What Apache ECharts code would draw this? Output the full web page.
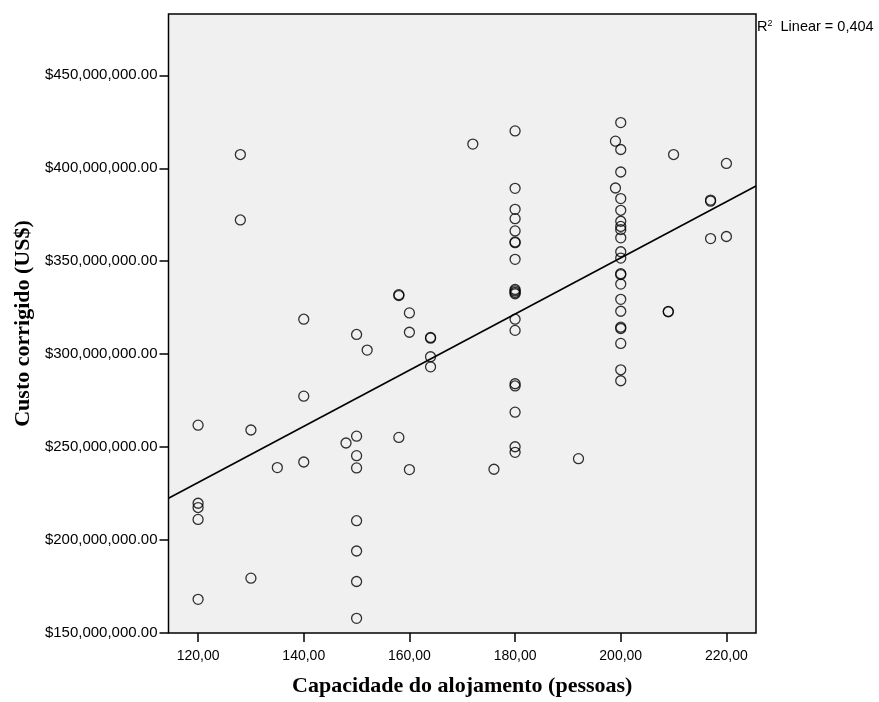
<!DOCTYPE html>
<html>
<head>
<meta charset="utf-8">
<script src="https://cdn.jsdelivr.net/npm/echarts@6/dist/echarts.min.js"></script>
<style>
html,body{margin:0;padding:0;background:#fff;overflow:hidden;}
#chart{width:879px;height:702px;}
</style>
</head>
<body>
<div id="chart"></div>
<script>
// Capacity (pessoas) and corrected cost (millions of US$), paired by index
const capacity = [
  120,120,120,120,120,
  128,128,
  130,130,
  135,
  140,140,140,
  148,
  150,150,150,150,150,150,150,150,
  152,
  158,158,158,
  160,160,160,
  164,164,164,164,
  172,
  176,
  180,180,180,180,180,180,180,180,180,180,180,180,180,180,180,180,180,180,180,
  192,
  199,199,
  200,200,200,200,200,200,200,200,200,200,200,200,200,200,200,200,200,200,200,200,200,
  209,209,
  210,
  217,217,217,
  220,220
];
const costMillions = [
  261.8,219.8,217.5,211.1,168.1,
  407.4,372.2,
  259.2,179.5,
  239.0,
  318.8,277.4,242.0,
  252.2,
  310.6,255.9,245.4,238.8,210.4,194.1,177.7,157.9,
  302.2,
  332.0,331.5,255.2,
  322.2,311.8,237.9,
  309.0,308.6,298.6,293.2,
  413.0,
  238.1,
  420.1,389.2,377.9,372.9,366.3,360.4,360.0,351.0,334.8,334.0,333.2,332.5,318.8,312.8,284.1,282.9,268.8,250.2,247.2,
  243.8,
  414.6,389.4,
  424.6,410.1,398.0,383.7,377.4,371.5,368.7,367.0,362.6,355.1,351.7,343.3,342.8,337.7,329.5,323.1,314.5,313.8,305.8,291.6,285.7,
  323.0,322.8,
  407.4,
  382.9,382.3,362.2,
  402.6,363.3
];
const xTicks = [120,140,160,180,200,220];
const yTicks = [150e6,200e6,250e6,300e6,350e6,400e6,450e6];
const xRange = [114.4, 225.6];
const yRange = [150e6, 483e6];
const r2Value = '0,404';

const points = capacity.map((c,i)=>[c, costMillions[i]*1e6]);

// least-squares fit of the points
const n = points.length;
let sx=0, sy=0, sxx=0, sxy=0;
points.forEach(p=>{sx+=p[0]; sy+=p[1]; sxx+=p[0]*p[0]; sxy+=p[0]*p[1];});
const slope = (n*sxy - sx*sy)/(n*sxx - sx*sx);
const intercept = (sy - slope*sx)/n;
const fitLine = xRange.map(x=>[x, intercept + slope*x]);

const chart = echarts.init(document.getElementById('chart'), null, {width:879, height:702});
chart.setOption({
  backgroundColor:'#ffffff',
  animation:false,
  grid:{left:168.5, right:123, top:14, bottom:66, show:true, backgroundColor:'#f0f0f0', borderColor:'#000', borderWidth:1.5},
  xAxis:{
    type:'value', min:xRange[0], max:xRange[1],
    name:'Capacidade do alojamento (pessoas)', nameLocation:'middle', nameGap:42,
    nameTextStyle:{fontFamily:'Liberation Serif', fontWeight:'bold', fontSize:22, color:'#000'},
    axisLine:{show:false},
    splitLine:{show:false},
    axisTick:{show:true, length:9, lineStyle:{color:'#000', width:1.5}, customValues:xTicks},
    axisLabel:{customValues:xTicks, color:'#000', fontFamily:'Liberation Sans', fontSize:14, margin:16,
      formatter:v=>v.toFixed(2).replace('.',',')}
  },
  yAxis:{
    type:'value', min:yRange[0], max:yRange[1],
    name:'Custo corrigido (US$)', nameLocation:'middle', nameGap:134,
    nameTextStyle:{fontFamily:'Liberation Serif', fontWeight:'bold', fontSize:22, color:'#000'},
    axisLine:{show:false},
    splitLine:{show:false},
    axisTick:{show:true, length:9, lineStyle:{color:'#000', width:1.5}, customValues:yTicks},
    axisLabel:{customValues:yTicks, color:'#000', fontFamily:'Liberation Sans', fontSize:15, margin:11,
      formatter:v=>'$'+v.toLocaleString('en-US',{minimumFractionDigits:2, maximumFractionDigits:2})}
  },
  series:[
    {type:'scatter', data:points, symbol:'circle', symbolSize:10,
     itemStyle:{color:'rgba(0,0,0,0)', borderColor:'#000', borderWidth:1.3}, silent:true, z:3},
    {type:'line', data:fitLine, showSymbol:false, symbol:'none', lineStyle:{color:'#000', width:1.6}, silent:true, z:2}
  ],
  graphic:[
    {type:'text', left:757, top:19, style:{
      text:'{r|R}{s|2}{r|  Linear = ' + r2Value + '}',
      rich:{
        r:{fontFamily:'Liberation Sans', fontSize:14.5, fill:'#000', verticalAlign:'bottom', lineHeight:16},
        s:{fontFamily:'Liberation Sans', fontSize:9, fill:'#000', verticalAlign:'bottom', lineHeight:16, padding:[0,0,6,0]}
      }
    }}
  ]
});
</script>
</body>
</html>
